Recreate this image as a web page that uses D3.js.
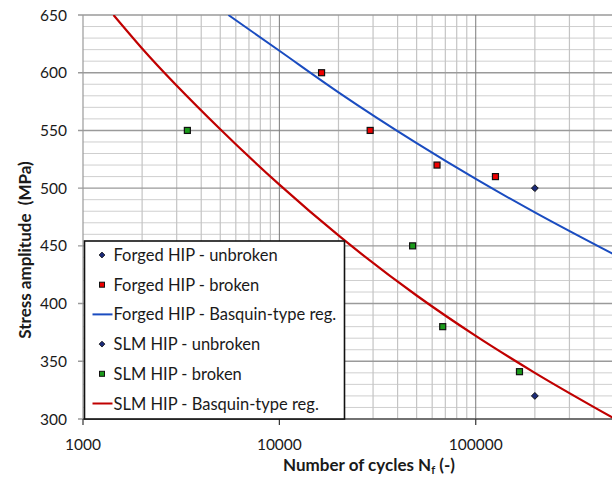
<!DOCTYPE html>
<html>
<head>
<meta charset="utf-8">
<title>S-N curves</title>
<script src="https://d3js.org/d3.v7.min.js"></script>
<style>
  body { margin: 0; background: #fff; }
  text { font-family: Lato, "Open Sans", sans-serif; fill: #1a1a1a; }
</style>
</head>
<body>
<div id="my_dataviz"></div>
<script>
// values
var xTicks = [1000, 10000, 100000];
var yTicks = [300, 350, 400, 450, 500, 550, 600, 650];

// test points [cycles, stress]
var forgedUnbroken = [[200000, 500]];
var forgedBroken = [[16400, 600], [29000, 550], [63500, 520], [126000, 510]];
var slmUnbroken = [[200000, 320]];
var slmBroken = [[3400, 550], [47700, 450], [67900, 380], [167000, 341]];

// regression lines
var forgedReg = [[5500, 650], [10000, 619], [20000, 583], [50000, 539], [100000, 508], [200000, 479], [500000, 443]];
var slmReg = [[1430, 650], [2000, 621], [5000, 551], [10000, 503], [20000, 459], [50000, 407], [100000, 372], [200000, 340], [500000, 301]];

var legendLabels = ["Forged HIP - unbroken", "Forged HIP - broken", "Forged HIP - Basquin-type reg.",
                    "SLM HIP - unbroken", "SLM HIP - broken", "SLM HIP - Basquin-type reg."];

var margin = {top: 15, right: -1, bottom: 58, left: 83},
    W = 612, H = 477,
    width = W - margin.left - margin.right,
    height = H - margin.top - margin.bottom;

var svg = d3.select("#my_dataviz")
  .append("svg")
    .attr("width", W)
    .attr("height", H)
  .append("g")
    .attr("transform", "translate(" + margin.left + "," + margin.top + ")");

var x = d3.scaleLog().domain([1000, 500000]).range([0, width]);
var y = d3.scaleLinear().domain([300, 650]).range([height, 0]);

svg.append("clipPath").attr("id", "clip")
  .append("rect").attr("width", width).attr("height", height);

// minor grid
var minorY = d3.range(300, 651, 10).filter(function(v) { return v % 50 != 0; });
svg.selectAll(".minY").data(minorY).enter().append("line")
  .attr("x1", 0).attr("x2", width)
  .attr("y1", function(d) { return y(d); }).attr("y2", function(d) { return y(d); })
  .attr("stroke", "#cfcfcf").attr("stroke-width", 1);

var minorX = [];
[1000, 10000, 100000].forEach(function(dec) {
  for (var k = 2; k <= 9; k++) if (dec * k <= 500000) minorX.push(dec * k);
});
svg.selectAll(".minX").data(minorX).enter().append("line")
  .attr("y1", 0).attr("y2", height)
  .attr("x1", function(d) { return x(d); }).attr("x2", function(d) { return x(d); })
  .attr("stroke", "#c4c4c4").attr("stroke-width", 1.2);

// major grid
svg.selectAll(".majY").data(yTicks).enter().append("line")
  .attr("x1", -5).attr("x2", width)
  .attr("y1", function(d) { return y(d); }).attr("y2", function(d) { return y(d); })
  .attr("stroke", "#9a9a9a").attr("stroke-width", 1.4);

svg.selectAll(".majX").data(xTicks.slice(1)).enter().append("line")
  .attr("y1", 0).attr("y2", height)
  .attr("x1", function(d) { return x(d); }).attr("x2", function(d) { return x(d); })
  .attr("stroke", "#7a7a7a").attr("stroke-width", 1);

// y axis line
svg.append("line").attr("x1", 0).attr("x2", 0).attr("y1", 0).attr("y2", height)
  .attr("stroke", "#9a9a9a").attr("stroke-width", 1.2);

// x axis
svg.append("line").attr("x1", 0).attr("x2", width).attr("y1", height).attr("y2", height)
  .attr("stroke", "#333").attr("stroke-width", 1.2);
svg.selectAll(".xtk").data(xTicks).enter().append("line")
  .attr("x1", function(d) { return x(d); }).attr("x2", function(d) { return x(d); })
  .attr("y1", height).attr("y2", height + 6)
  .attr("stroke", "#333").attr("stroke-width", 1.2);

svg.selectAll(".xlab").data(xTicks).enter().append("text")
  .attr("x", function(d) { return x(d); })
  .attr("y", height + 31)
  .attr("text-anchor", "middle")
  .style("font-size", "15.5px")
  .text(function(d) { return d; });

svg.selectAll(".ylab").data(yTicks).enter().append("text")
  .attr("x", -16)
  .attr("y", function(d) { return y(d) + 5.5; })
  .attr("text-anchor", "end")
  .style("font-size", "15.5px")
  .text(function(d) { return d; });

// axis titles
var xt = svg.append("text")
  .attr("x", 286).attr("y", height + 52)
  .attr("text-anchor", "middle")
  .style("font-size", "17px").style("font-weight", "bold");
xt.append("tspan").text("Number of cycles N");
xt.append("tspan").attr("dy", 3).style("font-size", "11px").text("f");
xt.append("tspan").attr("dy", -3).text(" (-)");

svg.append("text")
  .attr("transform", "translate(-52," + 235 + ") rotate(-90)")
  .attr("text-anchor", "middle")
  .style("font-size", "17px").style("font-weight", "bold")
  .style("white-space", "pre")
  .text("Stress amplitude  (MPa)");

// regression lines
var line = d3.line()
  .x(function(d) { return x(d[0]); })
  .y(function(d) { return y(d[1]); })
  .curve(d3.curveMonotoneX);

var curves = svg.append("g").attr("clip-path", "url(#clip)");
curves.append("path").datum(forgedReg).attr("d", line)
  .attr("fill", "none").attr("stroke", "#1a4cc0").attr("stroke-width", 2);
curves.append("path").datum(slmReg).attr("d", line)
  .attr("fill", "none").attr("stroke", "#c00000").attr("stroke-width", 2.2);

// markers
function squares(data, fill) {
  svg.selectAll(null).data(data).enter().append("rect")
    .attr("x", function(d) { return x(d[0]) - 3; })
    .attr("y", function(d) { return y(d[1]) - 3; })
    .attr("width", 6).attr("height", 6)
    .attr("fill", fill).attr("stroke", "#111").attr("stroke-width", 1.2);
}
function diamonds(data) {
  svg.selectAll(null).data(data).enter().append("path")
    .attr("d", d3.symbol().type(d3.symbolDiamond2).size(30))
    .attr("transform", function(d) { return "translate(" + x(d[0]) + "," + y(d[1]) + ")"; })
    .attr("fill", "#1b2a78").attr("stroke", "#111").attr("stroke-width", 1);
}
squares(forgedBroken, "#ee0000");
squares(slmBroken, "#1a9a1a");
diamonds(forgedUnbroken);
diamonds(slmUnbroken);

// legend
var lg = svg.append("g").attr("transform", "translate(1.5,226)");
lg.append("rect").attr("width", 260).attr("height", height - 226)
  .attr("fill", "#fff").attr("stroke", "#111").attr("stroke-width", 1.6);

var kinds = ["diamond", "square", "line", "diamond", "square", "line"];
var colors = ["#1b2a78", "#ee0000", "#1a4cc0", "#1b2a78", "#1a9a1a", "#c00000"];
var rows = lg.selectAll(".row").data(legendLabels).enter().append("g")
  .attr("transform", function(d, i) { return "translate(0," + (14 + i * 29.7) + ")"; });

rows.append("text").attr("x", 29).attr("y", 6)
  .style("font-size", "16.5px")
  .text(function(d) { return d; });

rows.each(function(d, i) {
  var g = d3.select(this);
  if (kinds[i] == "line") {
    g.append("line").attr("x1", 8).attr("x2", 28).attr("y1", 0).attr("y2", 0)
      .attr("stroke", colors[i]).attr("stroke-width", 2);
  } else if (kinds[i] == "square") {
    g.append("rect").attr("x", 15).attr("y", -2.5).attr("width", 5).attr("height", 5)
      .attr("fill", colors[i]).attr("stroke", "#111").attr("stroke-width", 1);
  } else {
    g.append("path").attr("d", d3.symbol().type(d3.symbolDiamond2).size(22))
      .attr("transform", "translate(17.5,0)")
      .attr("fill", colors[i]).attr("stroke", "#111").attr("stroke-width", 0.8);
  }
});
</script>
</body>
</html>
